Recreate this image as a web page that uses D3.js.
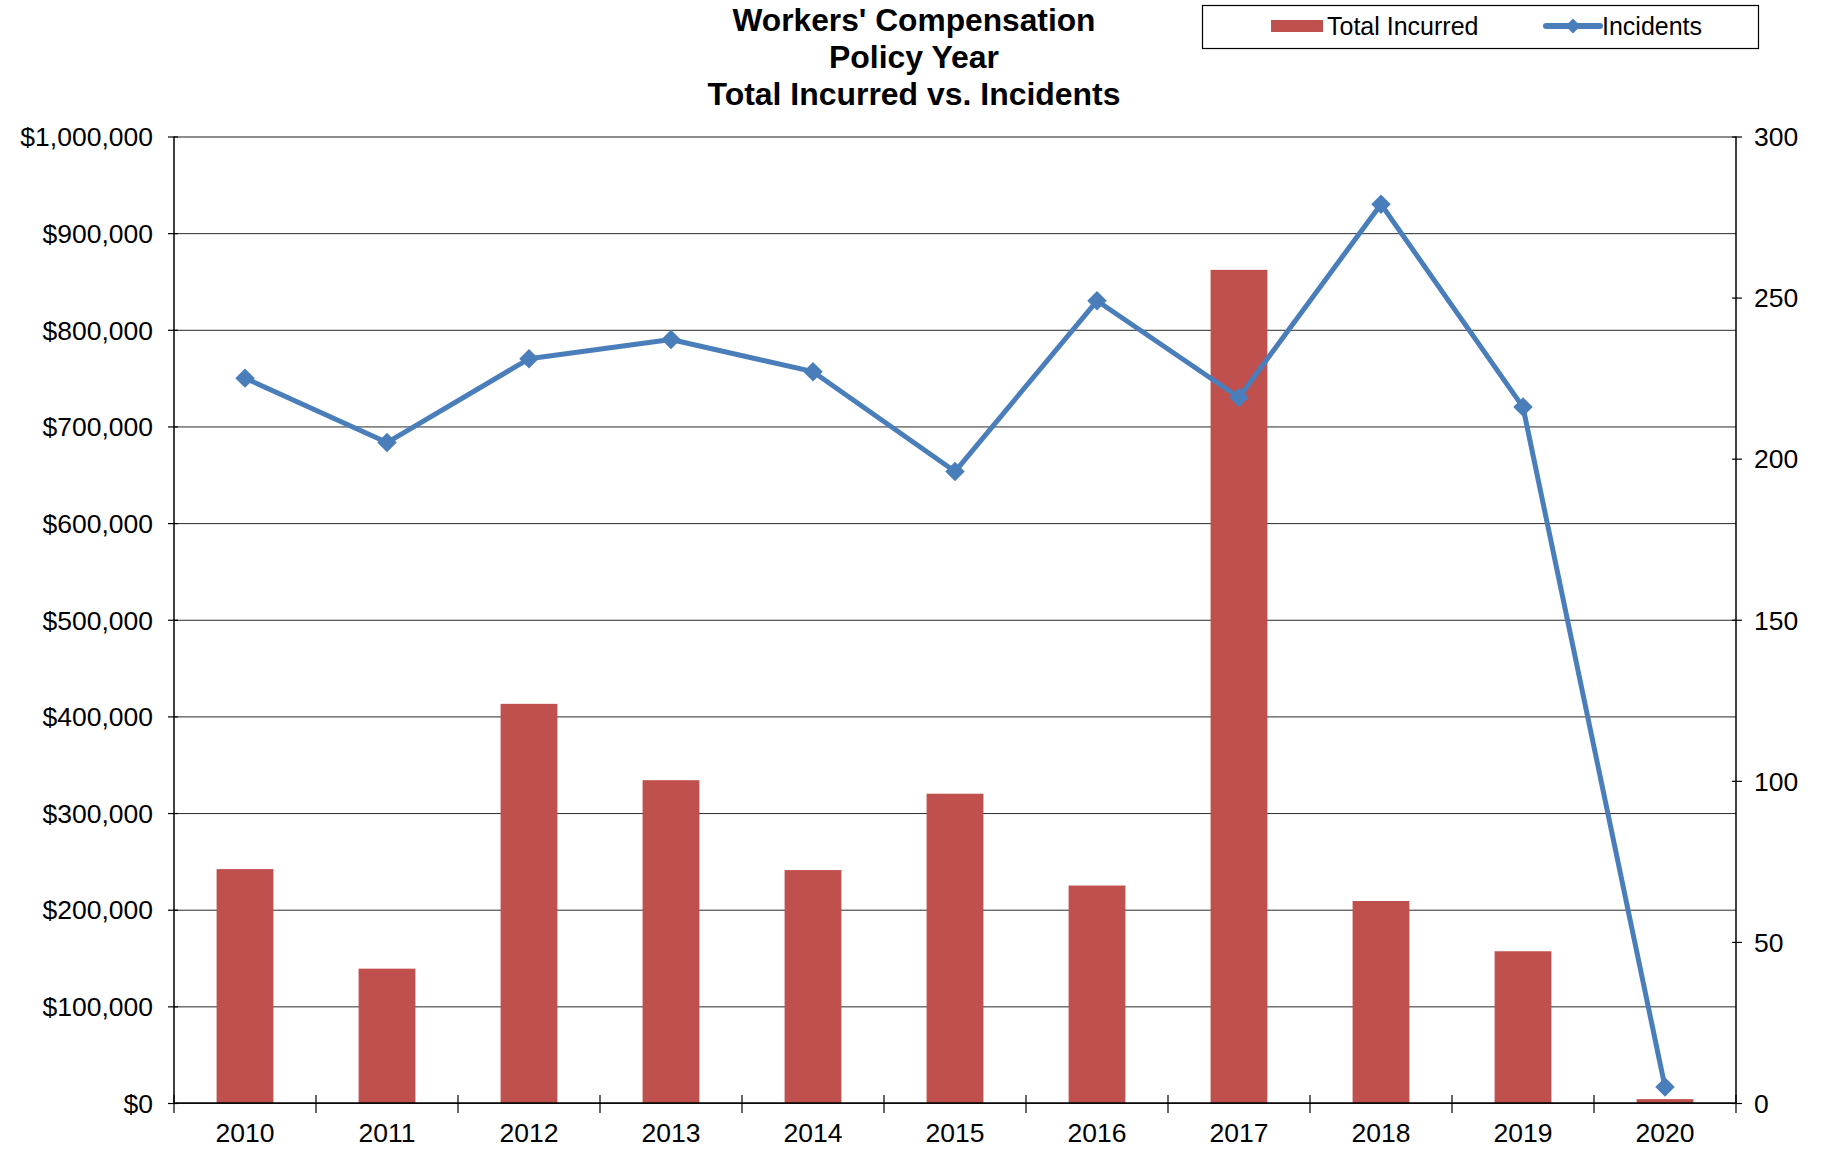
<!DOCTYPE html>
<html><head><meta charset="utf-8">
<script src="https://cdn.jsdelivr.net/npm/d3@7"></script>
<style>body{margin:0;background:#fff;} svg{display:block;font-family:"Liberation Sans",Arial,sans-serif;}</style>
</head><body>
<svg id="c" width="1830" height="1151"></svg>
<script>
const years = ["2010","2011","2012","2013","2014","2015","2016","2017","2018","2019","2020"];
const totalIncurred = [242000,139000,413000,334000,241000,320000,225000,862000,209000,157000,4000];
const incidents = [225,205,231,237,227,196,249,219,279,216,5];
const leftTicks = [0,100000,200000,300000,400000,500000,600000,700000,800000,900000,1000000];
const rightTicks = [0,50,100,150,200,250,300];
const titleLines = ["Workers' Compensation","Policy Year","Total Incurred vs. Incidents"];

const svg = d3.select("#c");
const m = {l:174, r:1736, t:136.5, b:1103};
const x = d3.scaleBand().domain(years).range([m.l,m.r]).paddingInner(0.6).paddingOuter(0.3);
const xb = d3.scaleBand().domain(years).range([m.l,m.r]);
const yL = d3.scaleLinear().domain([0,1000000]).range([m.b,m.t]);
const yR = d3.scaleLinear().domain([0,300]).range([m.b,m.t]);
const red = "#c0504d", blue = "#4a7ebb";

// gridlines
svg.append("g").selectAll("line").data(leftTicks).join("line")
  .attr("x1",m.l).attr("x2",m.r).attr("y1",d=>yL(d)+0.5).attr("y2",d=>yL(d)+0.5)
  .attr("stroke",d=>d===1000000?"#8c8c8c":"#2a2a2a").attr("stroke-width",d=>d===1000000?2:1);

// bars
svg.append("g").selectAll("rect").data(years).join("rect")
  .attr("x",d=>x(d)).attr("width",x.bandwidth())
  .attr("y",(d,i)=>yL(totalIncurred[i])).attr("height",(d,i)=>m.b-yL(totalIncurred[i]))
  .attr("fill",red);

// axes
const fs = 26.5;
const gL = svg.append("g").attr("transform",`translate(${m.l},0)`)
  .call(d3.axisLeft(yL).tickValues(leftTicks).tickSize(6).tickFormat(d=>"$"+d3.format(",")(d)));
const gR = svg.append("g").attr("transform",`translate(${m.r},0)`)
  .call(d3.axisRight(yR).tickValues(rightTicks).tickSize(6).tickFormat(d3.format("d")));
const gX = svg.append("g").attr("transform",`translate(0,${m.b})`)
  .call(d3.axisBottom(xb).tickSize(0).tickPadding(20));
[gL,gR,gX].forEach(g=>{
  g.select(".domain").attr("stroke","#000").attr("stroke-width",1.5);
  g.selectAll(".tick line").attr("stroke","#000").attr("stroke-width",1.2);
  g.selectAll("text").attr("font-size",fs).attr("fill","#000").attr("font-family","Liberation Sans, Arial, sans-serif");
});
gL.select(".domain").attr("d",`M0,${m.t}V${m.b}`);
gR.select(".domain").attr("d",`M0,${m.t}V${m.b}`);
gL.selectAll(".tick line").attr("x1",4);
gR.selectAll(".tick line").attr("x1",-4);
gL.selectAll(".tick text").attr("x",-21).attr("dy","0.35em");
gR.selectAll(".tick text").attr("x",18).attr("dy","0.35em");
gX.select(".domain").attr("d",`M${m.l},0H${m.r}`);
// x boundary ticks
const bounds = years.map(d=>xb(d)).concat([m.r]);
svg.append("g").selectAll("line").data(bounds).join("line")
  .attr("x1",d=>d).attr("x2",d=>d).attr("y1",m.b-8).attr("y2",m.b+10)
  .attr("stroke","#000").attr("stroke-width",1.2);

// line
const cx = d=>xb(d)+xb.bandwidth()/2;
const line = d3.line().x((d,i)=>cx(years[i])).y(d=>yR(d));
svg.append("path").datum(incidents).attr("d",line)
  .attr("fill","none").attr("stroke",blue).attr("stroke-width",5).attr("stroke-linejoin","round");
svg.append("g").selectAll("path").data(incidents).join("path")
  .attr("d",d3.symbol().type(d3.symbolSquare).size(190))
  .attr("transform",(d,i)=>`translate(${cx(years[i])},${yR(d)}) rotate(45)`)
  .attr("fill",blue);

// title
svg.append("g").selectAll("text").data(titleLines).join("text")
  .attr("x",914).attr("y",(d,i)=>20+i*37).attr("dy","0.35em")
  .attr("text-anchor","middle").attr("font-weight","bold").attr("font-size",31)
  .attr("textLength",(d,i)=>[363,170,413][i]).attr("lengthAdjust","spacingAndGlyphs")
  .text(d=>d);

// legend
const lg = svg.append("g");
lg.append("rect").attr("x",1202.5).attr("y",5.5).attr("width",556).attr("height",43)
  .attr("fill","#fff").attr("stroke","#000").attr("stroke-width",1.2);
lg.append("rect").attr("x",1271).attr("y",20).attr("width",52).attr("height",12).attr("fill",red);
lg.append("text").attr("x",1327).attr("y",26).attr("dy","0.35em").attr("font-size",25).text("Total Incurred");
lg.append("line").attr("x1",1546).attr("x2",1600).attr("y1",26).attr("y2",26)
  .attr("stroke",blue).attr("stroke-width",6).attr("stroke-linecap","round");
lg.append("path").attr("d",d3.symbol().type(d3.symbolSquare).size(110)())
  .attr("transform","translate(1573,26) rotate(45)").attr("fill",blue);
lg.append("text").attr("x",1602).attr("y",26).attr("dy","0.35em").attr("font-size",25).text("Incidents");
</script>
</body></html>
